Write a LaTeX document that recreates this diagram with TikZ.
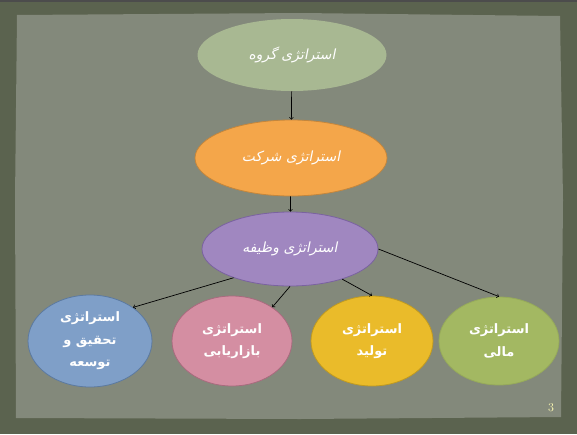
\documentclass[tikz,border=0pt]{standalone}
\usepackage{fontspec}
\usetikzlibrary{shapes.geometric}
\TeXXeTstate=1
\newfontfamily\farsi[Script=Arabic]{DejaVu Sans}
\newfontfamily\farsislant[Script=Arabic,FakeSlant=0.2]{DejaVu Sans}
\definecolor{frameolive}{RGB}{91,99,79}
\definecolor{paper}{RGB}{131,137,123}
\definecolor{groupfill}{RGB}{168,184,146}
\definecolor{firmfill}{RGB}{244,166,74}
\definecolor{firmline}{RGB}{196,134,60}
\definecolor{taskfill}{RGB}{160,135,192}
\definecolor{taskline}{RGB}{122,98,160}
\definecolor{rdfill}{RGB}{127,159,200}
\definecolor{rdline}{RGB}{92,122,160}
\definecolor{mktfill}{RGB}{212,142,162}
\definecolor{mktline}{RGB}{168,106,126}
\definecolor{prodfill}{RGB}{234,187,42}
\definecolor{prodline}{RGB}{192,154,32}
\definecolor{finfill}{RGB}{163,184,98}
\definecolor{finline}{RGB}{150,170,90}

\begin{document}
\begin{tikzpicture}[x=1pt,y=-1pt,
  upper/.style={ellipse,inner sep=0pt,line width=0.8pt,text=white,
    font=\farsislant\fontsize{14}{16}\selectfont},
  lower/.style={ellipse,inner sep=0pt,line width=0.8pt,text=white,align=center,
    font=\farsi\bfseries\fontsize{13}{22.5}\selectfont},
  link/.style={->,black,line width=0.7pt}]
  % -=-=-=-=- BACKGROUND -=-=-=-=-
  \useasboundingbox (0,0) rectangle (577,434);
  \fill[frameolive] (0,0) rectangle (577,434);
  \fill[black!70] (0,0) rectangle (577,2);
  \fill[paper] (17,15) -- (300,13) -- (560,16) -- (563,200) -- (561,417)
    -- (300,419) -- (16,418) -- (15,200) -- cycle;
  % -=-=-=-=- TOP LEVELS -=-=-=-=-
  \node[upper,fill=groupfill,minimum width=189pt,minimum height=72pt] (group) at (292,55) {\beginR استراتژی گروه\endR};
  \node[upper,fill=firmfill,draw=firmline,minimum width=192pt,minimum height=76pt] (firm) at (291,158) {\beginR استراتژی شرکت\endR};
  \node[upper,fill=taskfill,draw=taskline,minimum width=176pt,minimum height=74pt] (task) at (290,249) {\beginR استراتژی وظیفه\endR};
  % -=-=-=-=- FUNCTIONS -=-=-=-=-
  \node[lower,fill=rdfill,draw=rdline,minimum width=124pt,minimum height=92pt] (rd) at (90,341) {\beginR استراتژی\endR\\\beginR تحقیق و\endR\\\beginR توسعه\endR};
  \node[lower,fill=mktfill,draw=mktline,minimum width=120pt,minimum height=90pt] (mkt) at (232,341) {\beginR استراتژی\endR\\\beginR بازاریابی\endR};
  \node[lower,fill=prodfill,draw=prodline,minimum width=122pt,minimum height=90pt] (prod) at (372,341) {\beginR استراتژی\endR\\\beginR تولید\endR};
  \node[lower,fill=finfill,draw=finline,minimum width=120pt,minimum height=88pt] (fin) at (499,341) {\beginR استراتژی\endR\\\beginR مالی\endR};
  % -=-=-=-=- ARROWS -=-=-=-=-
  \draw[link] (group) -- (firm);
  \draw[link] (firm) -- (task);
  \draw[link] (task.207) -- (rd.38);
  \draw[link] (task.south) -- (mkt.40);
  \draw[link] (task.330) -- (prod.north);
  \draw[link] (task.east) -- (fin.north);
  % -=-=-=-=- PAGE NUMBER -=-=-=-=-
  \node[text=yellow!30,font=\fontsize{12}{14}\selectfont] (pagenum) at (551,408) {3};
\end{tikzpicture}
\end{document}
